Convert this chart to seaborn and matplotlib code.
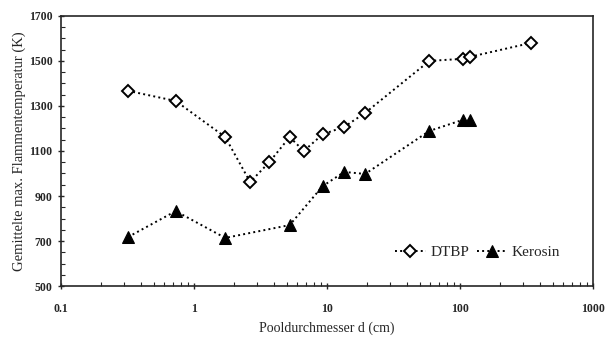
import numpy as np
import pandas as pd
import matplotlib.pyplot as plt
import seaborn as sns
from matplotlib.ticker import LogLocator, MultipleLocator, NullFormatter

# Werte
d_dtbp = [0.32, 0.73, 1.72, 2.65, 3.7, 5.25, 6.7, 9.3, 13.5, 19.4, 59, 105, 119, 345]
t_dtbp = [1367, 1322, 1162, 962, 1051, 1162, 1100, 1174, 1207, 1269, 1500, 1509, 1518, 1580]

d_kero = [0.32, 0.73, 1.72, 5.25, 9.3, 13.5, 19.4, 59, 105, 119]
t_kero = [718, 833, 714, 771, 944, 1007, 998, 1189, 1238, 1238]

df_dtbp = pd.DataFrame({'d': d_dtbp, 'T': t_dtbp})
df_kero = pd.DataFrame({'d': d_kero, 'T': t_kero})

sns.set_style("ticks")
plt.rcParams['font.family'] = ['Liberation Serif', 'DejaVu Serif']

fig = plt.figure(figsize=(6.15, 3.37), dpi=100)
ax = fig.add_axes([0.099, 0.151, 0.865, 0.802])

sns.lineplot(data=df_dtbp, x='d', y='T', ax=ax, color='black', linestyle=':',
             linewidth=1.4, marker='D', markersize=6, markerfacecolor='white',
             markeredgecolor='black', markeredgewidth=1.4, label='DTBP',
             sort=False)
sns.lineplot(data=df_kero, x='d', y='T', ax=ax, color='black', linestyle=':',
             linewidth=1.4, marker='^', markersize=9, markerfacecolor='black',
             markeredgecolor='black', label='Kerosin', sort=False)

ax.set_xscale('log')
ax.set_xlim(0.1, 1000)
ax.set_ylim(500, 1700)
ax.set_yticks(np.arange(500, 1701, 200))
ax.yaxis.set_minor_locator(MultipleLocator(50))
ax.xaxis.set_minor_locator(LogLocator(base=10, subs=np.arange(2, 10)))
ax.xaxis.set_minor_formatter(NullFormatter())
ax.set_xticks([0.1, 1, 10, 100, 1000])
ax.set_xticklabels(['0.1', '1', '10', '100', '1000'])
ax.tick_params(which='major', direction='inout', length=5, width=1,
               labelsize=8.5)
ax.tick_params(axis='x', which='major', pad=10)
ax.tick_params(which='minor', direction='in', length=3, width=0.8)
for lab in ax.get_xticklabels() + ax.get_yticklabels():
    lab.set_fontweight('bold')
for s in ax.spines.values():
    s.set_linewidth(1.2)

ax.set_xlabel('Pooldurchmesser d (cm)', fontsize=10, labelpad=4)
ax.set_ylabel('Gemittelte max. Flammentemperatur (K)', fontsize=10.5,
              labelpad=2)

leg = ax.legend(loc='center right', bbox_to_anchor=(0.965, 0.125), ncol=2,
                frameon=False, fontsize=11, handlelength=2.0,
                columnspacing=0.5, handletextpad=0.3)

fig.savefig('out.png', dpi=100)
